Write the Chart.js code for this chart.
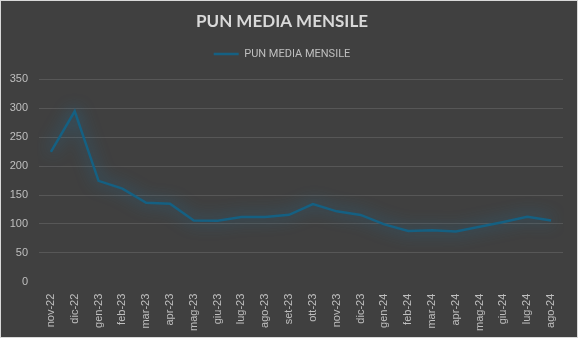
<!DOCTYPE html>
<html>
<head>
<meta charset="utf-8">
<script src="https://cdn.jsdelivr.net/npm/chart.js@4.4.1/dist/chart.umd.min.js"></script>
<style>
  html, body { margin: 0; padding: 0; background: #fff; }
  #wrap { position: relative; width: 576px; height: 336px; border: 1px solid #d9d9d9; background: #404040; }
</style>
</head>
<body>
<div id="wrap"><canvas id="punChart" width="576" height="336"></canvas></div>
<script>
const months = ['nov-22', 'dic-22', 'gen-23', 'feb-23', 'mar-23', 'apr-23', 'mag-23', 'giu-23',
  'lug-23', 'ago-23', 'set-23', 'ott-23', 'nov-23', 'dic-23', 'gen-24', 'feb-24', 'mar-24',
  'apr-24', 'mag-24', 'giu-24', 'lug-24', 'ago-24'];
const punValues = [224.5, 294.9, 174.5, 161.1, 136.4, 135.0, 105.7, 105.3, 112.1, 111.9, 115.7,
  134.3, 121.7, 115.5, 99.2, 87.6, 88.9, 86.8, 94.9, 103.2, 112.4, 106.0];
const yTicks = [0, 50, 100, 150, 200, 250, 300, 350];

// soft glow under the line, like the office chart
const glow = {
  id: 'glow',
  beforeDatasetDraw(chart) {
    const ctx = chart.ctx;
    ctx.save();
    ctx.shadowColor = 'rgba(30, 115, 160, 1)';
    ctx.shadowBlur = 16;
  },
  afterDatasetDraw(chart) {
    chart.ctx.restore();
  }
};

// a bit more room under the legend
const legendGap = {
  id: 'legendGap',
  beforeInit(chart) {
    const fit = chart.legend.fit;
    chart.legend.fit = function () {
      fit.bind(chart.legend)();
      this.height += 10;
    };
  }
};

const config = {
  type: 'line',
  data: {
    labels: months,
    datasets: [{
      label: 'PUN MEDIA MENSILE',
      data: punValues,
      borderColor: '#156082',
      backgroundColor: '#156082',
      borderWidth: 2.5,
      pointRadius: 0,
      tension: 0
    }]
  },
  options: {
    responsive: false,
    animation: false,
    layout: { padding: { left: 0, right: 14, top: 0, bottom: 2 } },
    plugins: {
      title: {
        display: true,
        text: 'PUN MEDIA MENSILE',
        color: '#d9d9d9',
        font: { family: 'Lato', size: 17, weight: 'bold' },
        padding: { top: 10, bottom: 7 }
      },
      legend: {
        labels: {
          color: '#bfbfbf',
          font: { family: 'Roboto', size: 11 },
          boxWidth: 25,
          boxHeight: 0,
          padding: 10
        }
      },
      tooltip: { enabled: false }
    },
    scales: {
      x: {
        offset: true,
        grid: { display: false },
        border: { display: false },
        ticks: {
          color: '#bfbfbf',
          font: { family: 'Liberation Sans', size: 11 },
          maxRotation: 90,
          minRotation: 90,
          autoSkip: false,
          padding: 4
        }
      },
      y: {
        min: 0,
        max: 350,
        afterBuildTicks(axis) { axis.ticks = yTicks.map(v => ({ value: v })); },
        afterFit(axis) { axis.width = 38; },
        grid: {
          color: (c) => (c.tick && c.tick.value === 0 ? 'rgba(0,0,0,0)' : '#575757'),
          lineWidth: 1,
          drawTicks: false
        },
        border: { display: false },
        ticks: {
          color: '#bfbfbf',
          font: { family: 'Liberation Sans', size: 11 },
          padding: 11
        }
      }
    }
  },
  plugins: [glow, legendGap]
};

const punChart = new Chart(document.getElementById('punChart'), config);
</script>
</body>
</html>
